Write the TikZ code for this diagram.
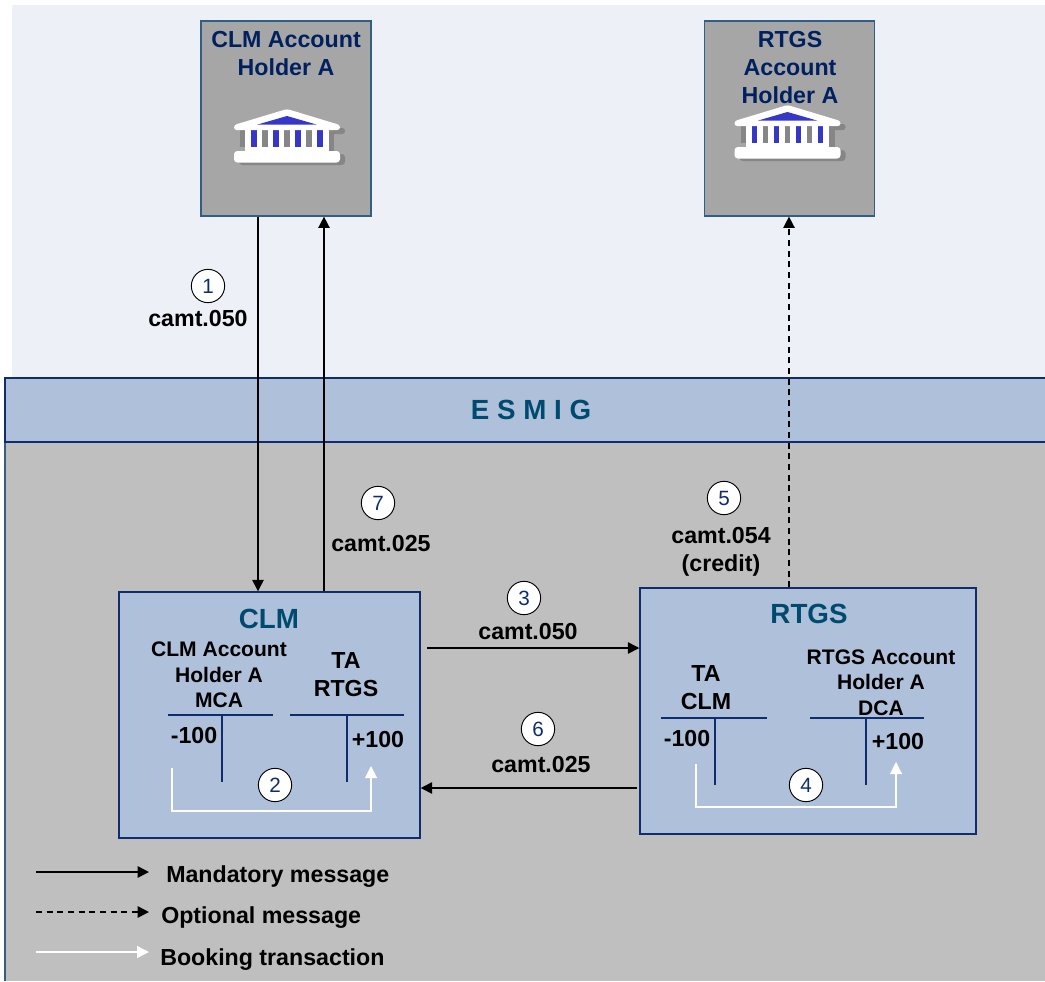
\documentclass[tikz,border=0pt]{standalone}
\usepackage{fontspec}
\setmainfont{Liberation Sans}
\usetikzlibrary{arrows.meta}
\definecolor{navy}{HTML}{0F2D6E}
\definecolor{holdernavy}{HTML}{00205F}
\definecolor{titleblue}{HTML}{004A70}
\definecolor{boxblue}{HTML}{AFC1DA}
\definecolor{holdergrey}{HTML}{A6A6A6}
\definecolor{lowgrey}{HTML}{BFBFBF}
\definecolor{topblue}{HTML}{EDF1F7}
\definecolor{edgeblue}{HTML}{2F5F85}
\definecolor{bankblue}{HTML}{3636C8}
\definecolor{bankshade}{HTML}{868686}
\tikzset{
  holder/.style={draw=edgeblue,line width=0.9pt,fill=holdergrey,minimum width=127.5pt,minimum height=146.25pt,inner sep=0pt},
  holdertxt/.style={align=center,text=holdernavy,font=\fontsize{17.4}{21}\selectfont\bfseries},
  platform/.style={draw=navy,line width=1.1pt,fill=boxblue,inner sep=0pt},
  platformtxt/.style={text=titleblue,font=\fontsize{20.8}{25}\selectfont\bfseries},
  acctxt/.style={align=center,font=\fontsize{15.8}{19.3}\selectfont\bfseries},
  bigtxt/.style={align=center,font=\fontsize{17.4}{21}\selectfont\bfseries},
  legendtxt/.style={anchor=west,inner sep=0pt,font=\fontsize{17.4}{21}\selectfont\bfseries},
  num/.style={circle,draw=black,line width=0.7pt,fill=white,minimum size=25pt,inner sep=0pt,text=navy,font=\fontsize{15.5}{17}\selectfont},
  msg/.style={line width=1.1pt,-{Triangle[length=8.5pt,width=8.5pt]}},
  optmsg/.style={msg,dash pattern=on 4.5pt off 3.5pt},
  book/.style={white,line width=0.8pt,-{Triangle[length=9pt,width=9pt]}},
  tacc/.style={navy,line width=1.1pt},
  bankicon/.pic={
    \fill[bankshade,rounded corners=2pt] (40,18) rectangle (58,24);
    \fill[bankshade,rounded corners=2.5pt] (-48,44) rectangle (58,55);
    \fill[bankshade] (-47,20) rectangle (-42,37);
    \fill[white] (-42,18) rectangle (42,44);
    \foreach \cx in {-36,-14,8.3,30.3} \fill[bankblue] (\cx,20) rectangle ++(5.5,17);
    \foreach \cx in {-25,-3,19.3} \fill[bankshade] (\cx,20) rectangle ++(5.5,17);
    \fill[bankshade] (41.7,20) rectangle (47,44);
    \fill[white,rounded corners=2pt] (0,-1) -- (53,15) -- (53,20) -- (-53,20) -- (-53,15) -- cycle;
    \fill[bankblue] (-30,14.7) -- (0,6) -- (30,14.7) -- cycle;
    \fill[white,rounded corners=2.5pt] (-53,41) rectangle (53,52.5);
  }
}
\begin{document}
\begin{tikzpicture}[x=0.75pt,y=-0.75pt]
  \useasboundingbox (0,0) rectangle (1045,981);
  \fill[white] (0,0) rectangle (1045,981);
  \fill[topblue] (12,5) rectangle (1045,378);
  \fill[lowgrey] (5,442) rectangle (1045,981);
  \draw[edgeblue,line width=0.8pt] (5,442) -- (5,981);
  \filldraw[fill=boxblue,draw=navy,line width=1.1pt] (1045,378) -- (5,378) -- (5,442) -- (1045,442);
  \node[platformtxt] (esmig) at (531,409.5) {E S M I G};

  \node[holder] (clmholder) at (286,118.5) {};
  \node[holder] (rtgsholder) at (789.5,118.5) {};
  \node[holdertxt] (clmholdertxt) at (286,54) {CLM Account\\Holder A};
  \node[holdertxt] (rtgsholdertxt) at (790,68) {RTGS\\Account\\Holder A};
  \pic at (287,110) {bankicon};
  \pic at (787.5,106) {bankicon};

  \node[platform,minimum width=225.75pt,minimum height=184.5pt] (clm) at (269.5,715) {};
  \node[platform,minimum width=252pt,minimum height=184.5pt] (rtgs) at (808,711) {};
  \node[platformtxt] (clmtxt) at (269,618.5) {CLM};
  \node[platformtxt] (rtgstxt) at (809,613.5) {RTGS};

  \node[acctxt] (clmmca) at (219,675) {CLM Account\\Holder A\\MCA};
  \node[bigtxt] (tartgs) at (346,675) {TA\\RTGS};
  \node[bigtxt] (taclm) at (706,688) {TA\\CLM};
  \node[acctxt] (rtgsdca) at (881,682.5) {RTGS Account\\Holder A\\DCA};
  \node[bigtxt] (m1) at (194,736) {-100};
  \node[bigtxt] (p1) at (378,740) {+100};
  \node[bigtxt] (m2) at (687,739) {-100};
  \node[bigtxt] (p2) at (898,742) {+100};

  \draw[tacc] (168,715) -- (273,715) (222,715) -- (222,782);
  \draw[tacc] (290,715) -- (404,715) (347,715) -- (347,782);
  \draw[tacc] (661,718) -- (767,718) (715,718) -- (715,785);
  \draw[tacc] (810,718) -- (924,718) (866,718) -- (866,785);

  \coordinate (b2) at (172,768);
  \coordinate (b2end) at (371,766);
  \coordinate (b4) at (696,764);
  \coordinate (b4end) at (896,762);
  \draw[book] (b2) -- (172,811) -- (371,811) -- (b2end);
  \draw[book] (b4) -- (696,807) -- (896,807) -- (b4end);

  \coordinate (c1) at (258,0);
  \coordinate (c7) at (324,0);
  \coordinate (c5) at (789,0);
  \coordinate (c3) at (427,648);
  \coordinate (c6) at (637,788);
  \draw[msg] (clmholder.south -| c1) -- (clm.north -| c1);
  \draw[msg] (clm.north -| c7) -- (clmholder.south -| c7);
  \draw[optmsg] (rtgs.north -| c5) -- (rtgsholder.south -| c5);
  \draw[msg] (c3) -- (c3 -| rtgs.west);
  \draw[msg] (c6) -- (c6 -| clm.east);

  \node[num] (n1) at (208,286) {1};
  \node[num] (n2) at (275,785) {2};
  \node[num] (n3) at (524,598) {3};
  \node[num] (n4) at (806,785) {4};
  \node[num] (n5) at (724,498) {5};
  \node[num] (n6) at (538,729) {6};
  \node[num] (n7) at (378,503) {7};
  \node[bigtxt] (l1) at (198,319) {camt.050};
  \node[bigtxt] (l7) at (381,544) {camt.025};
  \node[bigtxt] (l5) at (721,552) {camt.054\\(credit)};
  \node[bigtxt] (l3) at (528,632) {camt.050};
  \node[bigtxt] (l6) at (541,765) {camt.025};

  \coordinate (k1) at (36,872);
  \coordinate (k1end) at (149,872);
  \coordinate (k2) at (36,912);
  \coordinate (k2end) at (149,912);
  \coordinate (k3) at (36,952);
  \coordinate (k3end) at (149,952);
  \draw[msg] (k1) -- (k1end);
  \draw[optmsg] (k2) -- (k2end);
  \draw[book,line width=1.1pt] (k3) -- (k3end);
  \node[legendtxt] (k1txt) at (166,877) {Mandatory message};
  \node[legendtxt] (k2txt) at (161,918) {Optional message};
  \node[legendtxt] (k3txt) at (160,960) {Booking transaction};
\end{tikzpicture}
\end{document}
